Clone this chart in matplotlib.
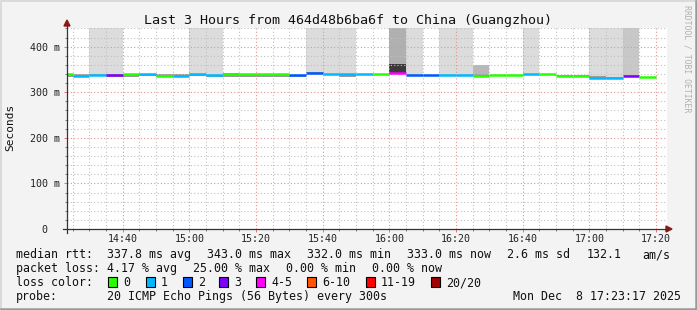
import matplotlib
matplotlib.use("Agg")
import matplotlib.pyplot as plt
import matplotlib.transforms as mtransforms
from matplotlib.patches import Rectangle, Polygon
from matplotlib.lines import Line2D
import numpy as np

# ---- data ----
title = "Last 3 Hours from 464d48b6ba6f to China (Guangzhou)"
window = ("14:23:17", "17:23:17")
steps = ["14:20", "14:25", "14:30", "14:35", "14:40", "14:45", "14:50", "14:55",
         "15:00", "15:05", "15:10", "15:15", "15:20", "15:25", "15:30", "15:35",
         "15:40", "15:45", "15:50", "15:55", "16:00", "16:05", "16:10", "16:15",
         "16:20", "16:25", "16:30", "16:35", "16:40", "16:45", "16:50", "16:55",
         "17:00", "17:05", "17:10", "17:15"]
median_ms = [339.0, 335.5, 337.5, 337.5, 340.0, 340.0, 335.0, 335.0,
             340.0, 337.5, 340.0, 340.0, 340.0, 340.0, 337.7, 343.0,
             340.0, 340.0, 340.0, 340.0, 342.5, 337.5, 337.5, 337.5,
             337.5, 336.0, 337.0, 337.0, 339.0, 339.0, 335.0, 335.0,
             332.0, 332.0, 335.5, 333.0]
loss_cnt = [0, 1, 1, 3, 0, 1, 0, 1,
            1, 1, 0, 0, 0, 0, 2, 2,
            1, 1, 1, 0, 5, 2, 2, 1,
            1, 0, 0, 0, 1, 0, 0, 0,
            1, 1, 3, 0]
smoke_lo = [334.5, 334, 335, 334, 333, 335, 334, 334,
            335, 334, 333, 333, 333, 333, 333, 342,
            339, 333, 339, 339, 341, 335, 336, 336,
            336, 336, 335, 335, 338, 339, 335, 335,
            332, 332, 335, 333]
smoke_hi = [340, 339, 339, 339, 340, 340, 339.5, 339,
            340, 338, 343, 340, 340, 340, 337.7, 344,
            340, 340, 340, 340, 362, 337.5, 337.5, 337.5,
            337.5, 341, 337, 337, 339, 341, 337, 337,
            336, 334, 337, 333]
# highest pings of each step (nan = none above the smoke), and how many pings
spike_top = [np.nan, np.nan, 500, 500, np.nan, np.nan, np.nan, np.nan,
             500, 500, np.nan, np.nan, np.nan, np.nan, np.nan, 500,
             500, 500, np.nan, np.nan, 500, 500, np.nan, 500,
             500, 359, np.nan, np.nan, 500, np.nan, np.nan, np.nan,
             500, 500, 500, np.nan]
spike_pings = [0, 0, 1, 1, 0, 0, 0, 0,
               1, 1, 0, 0, 0, 0, 0, 1,
               1, 1, 0, 0, 4, 1, 0, 1,
               1, 3, 0, 0, 1, 0, 0, 0,
               1, 1, 2, 0]

loss_labels = ["0", "1", "2", "3", "4-5", "6-10", "11-19", "20/20"]
loss_colors = ["#26ff00", "#00b8ff", "#0059ff", "#7e00ff", "#ff00ff", "#ff5500", "#ff0000", "#a10000"]
loss_upper = [0, 1, 2, 3, 5, 10, 19, 20]

stats_rtt = ["337.8 ms avg", "343.0 ms max", "332.0 ms min", "333.0 ms now", "2.6 ms sd", "132.1", "am/s"]
stats_loss = ["4.17 % avg", "25.00 % max", "0.00 % min", "0.00 % now"]
probe_txt = "20 ICMP Echo Pings (56 Bytes) every 300s"
stamp = "Mon Dec  8 17:23:17 2025"


def to_min(s):
    p = [int(v) for v in s.split(":")]
    return p[0] * 60 + p[1] + (p[2] / 60 if len(p) > 2 else 0)


def loss_color(n):
    for up, c in zip(loss_upper, loss_colors):
        if n <= up:
            return c
    return loss_colors[-1]


W, H = 697, 310
MONO = "DejaVu Sans Mono"
plt.rcParams['font.family'] = MONO


def fx(px):
    return px / W


def fy(py):
    return 1 - py / H


fig = plt.figure(figsize=(W / 100, H / 100), dpi=100)
fig.patch.set_facecolor("#f3f3f3")
# frame around the image
fig.add_artist(Line2D([fx(0.5), fx(0.5), fx(W - 1)], [fy(H - 1), fy(0.5), fy(0.5)],
                     color="#d6d6d6", lw=1.2))
fig.add_artist(Line2D([fx(0.5), fx(W - 1), fx(W - 1)], [fy(H - 1), fy(H - 1), fy(0.5)],
                     color="#9a9a9a", lw=1.8))

ax = fig.add_axes([fx(67), fy(229), (667 - 67) / W, (229 - 28) / H])
ax.set_facecolor("white")
t0, t1 = to_min(window[0]), to_min(window[1])
ax.set_xlim(t0, t1)
ax.set_ylim(0, 441)
for sp in ax.spines.values():
    sp.set_visible(False)

# grid
for m in np.arange(14 * 60 + 25, t1, 5):
    major = (m % 20 == 0)
    ax.axvline(m, color="#e89090" if major else "#c0c0c0", lw=0.8,
               ls=(0, (1, 2)), zorder=1.5)
for v in range(20, 441, 20):
    major = (v % 100 == 0)
    ax.axhline(v, color="#e89090" if major else "#c0c0c0", lw=0.8,
               ls=(0, (1, 2)), zorder=1.5)

x_start = np.array([to_min(s) for s in steps])
med = np.array(median_ms)
lo = np.array(smoke_lo)
hi = np.array(smoke_hi)
top = np.array(spike_top)
shade = {1: "#dcdcdc", 2: "#c8c8c8", 3: "#b8b8b8", 4: "#b0b0b0"}

has = ~np.isnan(top)
ax.bar(x_start[has], top[has] - hi[has], width=5, bottom=hi[has], align="edge",
       color=[shade[p] for p in np.array(spike_pings)[has]], linewidth=0, zorder=1)
smoke_col = ["#3a3a3a" if h - l > 15 else "#9a9a9a" for l, h in zip(lo, hi)]
ax.bar(x_start, hi - lo, width=5, bottom=lo, align="edge",
       color=smoke_col, linewidth=0, zorder=1.2)
ax.hlines(med, x_start, x_start + 5, colors=[loss_color(n) for n in loss_cnt],
          lw=1.8, zorder=3)

# ticks and labels
ax.set_yticks([0, 100, 200, 300, 400], labels=["0", "100 m", "200 m", "300 m", "400 m"])
ax.set_yticks(range(20, 441, 20), minor=True)
xt = np.arange(14 * 60 + 40, t1, 20)
ax.set_xticks(xt, labels=["%d:%02d" % (m // 60, m % 60) for m in xt])
ax.set_xticks(np.arange(14 * 60 + 25, t1, 5), minor=True)
ax.tick_params(axis="both", which="major", length=2.5, width=0.6, color="#e06060",
               labelsize=7.2, labelcolor="#222222", pad=1.0)
ax.tick_params(axis="both", which="minor", length=1.5, width=0.6, color="#666666")
ax.tick_params(axis="y", pad=2.9)
# "0" label sits further left in rrdtool
for lab in ax.get_yticklabels():
    if lab.get_text() == "0":
        lab.set_transform(lab.get_transform() + mtransforms.ScaledTranslation(-12 / 100, 0, fig.dpi_scale_trans))

# axes with arrows
fig.add_artist(Line2D([fx(63), fx(667)], [fy(229), fy(229)], color="#333333", lw=0.9))
fig.add_artist(Line2D([fx(67), fx(67)], [fy(233), fy(25)], color="#333333", lw=0.9))
fig.add_artist(Polygon([[fx(666), fy(226)], [fx(666), fy(232)], [fx(672), fy(229)]],
                       closed=True, color="#8b1a1a"))
fig.add_artist(Polygon([[fx(64), fy(26)], [fx(70), fy(26)], [fx(67), fy(20)]],
                       closed=True, color="#8b1a1a"))

fig.text(fx(348), fy(24), title, fontsize=9.6, ha="center", va="baseline", color="#111111")
fig.text(fx(10), fy(127), "Seconds", fontsize=8, rotation=90, ha="center", va="center",
         color="#111111")
fig.text(fx(687), fy(59), "RRDTOOL / TOBI OETIKER", fontsize=5.9, rotation=270,
         ha="center", va="center", color="#b0b0b0")

FS = 8.35
def row(y, x, s):
    fig.text(fx(x), fy(y), s, fontsize=FS, ha="left", va="baseline", color="#111111")

row(258, 16, "median rtt:")
for x, s in zip([107, 207, 307, 407, 507, 587, 642], stats_rtt):
    row(258, x, s)
row(272, 16, "packet loss:")
for x, s in zip([107, 193, 286, 372], stats_loss):
    row(272, x, s)
row(286, 16, "loss color:")
box_x = [108, 146, 183, 219, 256, 307, 366, 431]
for bx, lab, c in zip(box_x, loss_labels, loss_colors):
    fig.add_artist(Rectangle((fx(bx), fy(287)), 9 / W, 10 / H, facecolor=c,
                             edgecolor="black", lw=0.8))
    row(286, bx + 15, lab)
row(300, 16, "probe:")
row(300, 107, probe_txt)
row(300, 513, stamp)

fig.savefig("out.png", dpi=100, facecolor=fig.get_facecolor())
